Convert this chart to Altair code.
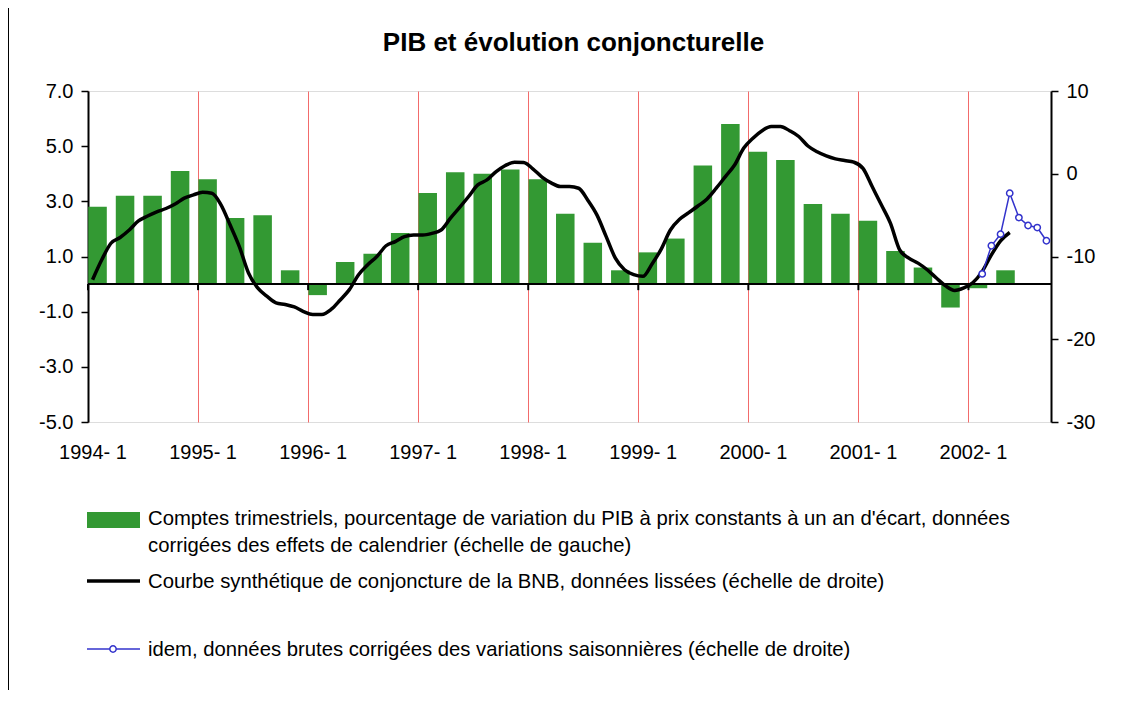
import altair as alt
import pandas as pd

# ---- data ----
# quarterly GDP growth (left scale), 1994Q1 .. 2002Q2
gdp = [2.8, 3.2, 3.2, 4.1,
       3.8, 2.4, 2.5, 0.5,
       -0.4, 0.8, 1.1, 1.85,
       3.3, 4.05, 4.0, 4.15,
       3.8, 2.55, 1.5, 0.5,
       1.15, 1.65, 4.3, 5.8,
       4.8, 4.5, 2.9, 2.55,
       2.3, 1.2, 0.6, -0.85,
       -0.15, 0.5]

# BNB synthetic curve, smoothed, monthly from 1994-01 (right scale)
bnb_smooth = [-12.8, -10.4, -8.4, -7.7, -6.8, -5.7, -5.1, -4.6, -4.2, -3.65, -2.95, -2.55,
              -2.25, -2.35, -3.75, -6.2, -8.8, -12.0, -13.8, -14.8, -15.6, -15.8, -16.1, -16.65,
              -17.0, -17.0, -16.4, -15.25, -14.0, -12.2, -11.0, -10.0, -8.7, -8.2, -7.6, -7.4,
              -7.4, -7.2, -6.8, -5.4, -4.1, -2.75, -1.35, -0.75, 0.25, 1.0, 1.4, 1.35,
              0.6, -0.4, -1.1, -1.55, -1.55, -1.75, -3.2, -5.0, -7.6, -10.2, -11.6, -12.2,
              -12.4, -10.9, -9.1, -6.8, -5.5, -4.7, -3.9, -3.05, -1.75, -0.35, 1.05, 3.1,
              4.3, 5.2, 5.7, 5.7, 5.2, 4.5, 3.35, 2.65, 2.15, 1.8, 1.6, 1.4,
              0.65, -1.55, -3.75, -6.0, -9.2, -10.2, -10.8, -11.6, -12.6, -13.55, -14.1, -13.8,
              -13.15, -11.8, -9.8, -8.1, -7.1]

# raw, seasonally adjusted (right scale), 2002-02 .. 2002-09
raw_months = [97, 98, 99, 100, 101, 102, 103, 104]
raw_values = [-12.1, -8.7, -7.3, -2.35, -5.3, -6.25, -6.5, -8.1]

year_starts = [0, 12, 24, 36, 48, 60, 72, 84, 96]

title_text = "PIB et évolution conjoncturelle"
legend_1a = "Comptes trimestriels, pourcentage de variation du PIB à prix constants à un an d'écart, données"
legend_1b = "corrigées des effets de calendrier (échelle de gauche)"
legend_2 = "Courbe synthétique de conjoncture de la BNB, données lissées (échelle de droite)"
legend_3 = "idem, données brutes corrigées des variations saisonnières (échelle de droite)"

FONT = "Liberation Sans"
W, H = 963, 331
FS = 20
LFS = 20.3

df_bars = pd.DataFrame({"q": list(range(len(gdp))), "v": gdp})
df_smooth = pd.DataFrame({"m": list(range(len(bnb_smooth))), "v": bnb_smooth})
df_raw = pd.DataFrame({"m": raw_months, "v": raw_values})
df_years = pd.DataFrame({"m": year_starts, "y0": [0.0] * len(year_starts), "y1": [-0.22] * len(year_starts)})
df_one = pd.DataFrame({"k": [0]})

xscale = alt.Scale(domain=[0, 105], nice=False, zero=False)
xaxis = alt.Axis(values=year_starts, labelExpr="toString(1994 + datum.value / 12) + '- 1'",
                 grid=True, gridColor="#F26B6B", gridWidth=1, ticks=False, domain=False,
                 labelFontSize=FS, labelFont=FONT, labelColor="black", labelPadding=20,
                 labelOffset=4.5, labelFlush=False, labelOverlap=False, title=None)
lscale = alt.Scale(domain=[-5, 7], nice=False, zero=False)
laxis = alt.Axis(values=[-5, -3, -1, 1, 3, 5, 7],
                 labelExpr="(datum.value < 0 ? '-' : '') + format(abs(datum.value), '.1f')",
                 grid=False, tickSize=7,
                 tickColor="black", tickWidth=1.5, domainColor="black", domainWidth=2,
                 labelFontSize=FS, labelFont=FONT, labelColor="black", labelPadding=8, title=None)
rscale = alt.Scale(domain=[-30, 10], nice=False, zero=False)
raxis = alt.Axis(orient="right", values=[-30, -20, -10, 0, 10],
                 labelExpr="(datum.value < 0 ? '-' : '') + format(abs(datum.value), 'd')",
                 grid=False, tickSize=7,
                 tickColor="black", tickWidth=1.5, domainColor="black", domainWidth=2,
                 labelFontSize=FS, labelFont=FONT, labelColor="black", labelPadding=8, title=None)


def X(f):
    return alt.X(f, type="quantitative", scale=xscale, axis=xaxis)


bars = alt.Chart(df_bars).transform_calculate(
    x0="datum.q * 3 + 0.03", x1="datum.q * 3 + 2.05"
).mark_bar(color="#339933").encode(
    x=X("x0:Q"), x2="x1:Q",
    y=alt.Y("v:Q", scale=lscale, axis=laxis), y2=alt.datum(0)
)

zero = alt.Chart(df_one).mark_rule(color="black", strokeWidth=2).encode(
    y=alt.Y(datum=0, type="quantitative", scale=lscale, axis=laxis)
)

yticks = alt.Chart(df_years).mark_rule(color="black", strokeWidth=2).encode(
    x=X("m:Q"),
    y=alt.Y("y0:Q", scale=lscale, axis=laxis), y2="y1:Q"
)

left = alt.layer(bars, zero, yticks)

smooth = alt.Chart(df_smooth).transform_calculate(mc="datum.m + 0.5").mark_line(
    color="black", strokeWidth=3.5, interpolate="monotone"
).encode(
    x=X("mc:Q"),
    y=alt.Y("v:Q", scale=rscale, axis=raxis)
)

raw = alt.Chart(df_raw).transform_calculate(mc="datum.m + 0.5").mark_line(
    color="#3333CC", strokeWidth=1.5,
    point=alt.OverlayMarkDef(shape="circle", filled=True, fill="white", stroke="#3333CC",
                             strokeWidth=1.5, size=40)
).encode(
    x=X("mc:Q"),
    y=alt.Y("v:Q", scale=rscale, axis=raxis)
)

right = alt.layer(smooth, raw)

# ---- title, hand-made legend and chart-area border ----
base = alt.Chart(df_one)
title = base.mark_text(align="center", baseline="middle", font=FONT, fontSize=26,
                       fontWeight="bold", color="black").encode(
    x=alt.value(W / 2 + 4), y=alt.value(-48), text=alt.value(title_text))
leg_rect = base.mark_rect(color="#339933").encode(
    x=alt.value(-1), x2=alt.value(52), y=alt.value(421), y2=alt.value(437))
leg_line = base.mark_rule(color="black", strokeWidth=3.5).encode(
    x=alt.value(-1), x2=alt.value(52), y=alt.value(490))
leg_blue = base.mark_rule(color="#3333CC", strokeWidth=1.5).encode(
    x=alt.value(-1), x2=alt.value(52), y=alt.value(558))
leg_pt = base.mark_point(shape="circle", filled=True, fill="white", stroke="#3333CC",
                         strokeWidth=1.5, size=40, opacity=1).encode(
    x=alt.value(25), y=alt.value(558))


def leg_text(t, y):
    return base.mark_text(align="left", baseline="middle", font=FONT, fontSize=LFS,
                          color="black").encode(x=alt.value(60), y=alt.value(y), text=alt.value(t))


border = base.mark_rule(color="black", strokeWidth=1).encode(
    x=alt.value(-79.5), y=alt.value(-84), y2=alt.value(620))

legend = alt.layer(title, leg_rect, leg_line, leg_blue, leg_pt,
                   leg_text(legend_1a, 428), leg_text(legend_1b, 455),
                   leg_text(legend_2, 491), leg_text(legend_3, 559), border)

chart = alt.layer(left, right, legend).resolve_scale(y="independent").properties(
    width=W, height=H,
    autosize=alt.AutoSizeParams(type="none"),
    padding={"left": 80, "top": 83, "right": 62, "bottom": 268},
).configure_view(stroke="black", strokeWidth=1.5).configure(background="white")

chart.save("out.html", embed_options={"renderer": "svg", "actions": False})
